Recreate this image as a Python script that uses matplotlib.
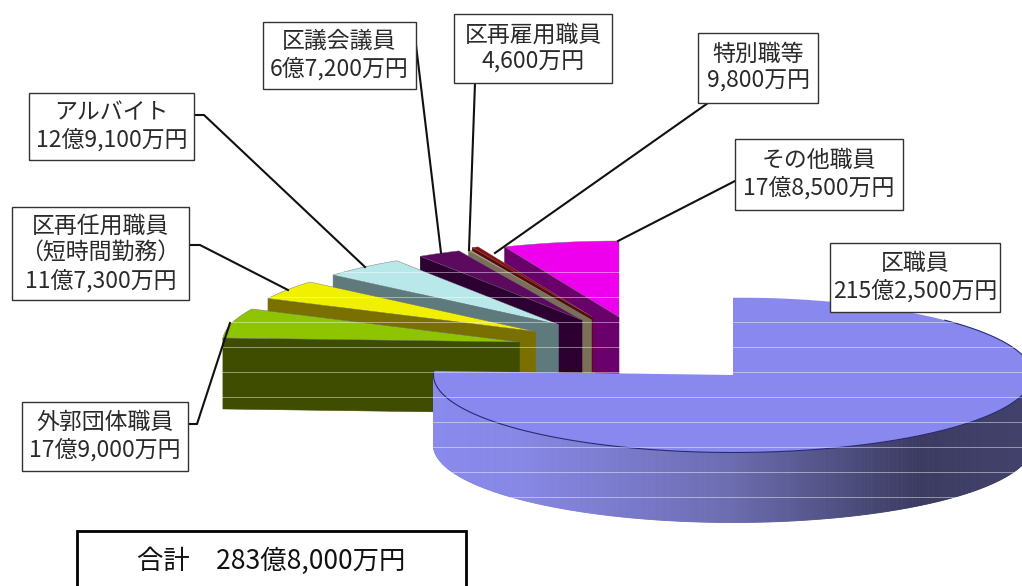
import numpy as np
import matplotlib
matplotlib.use('Agg')
import matplotlib.pyplot as plt
from matplotlib.patches import Polygon, Rectangle

plt.rcParams['font.family'] = ['Noto Sans CJK JP', 'DejaVu Sans']

# data (unit: 100 million yen), clockwise from 12 o'clock
categories = ['区職員', '外郭団体職員', '区再任用職員\n（短時間勤務）', 'アルバイト',
              '区議会議員', '区再雇用職員', '特別職等', 'その他職員']
values = [215.25, 17.90, 11.73, 12.91, 6.72, 0.46, 0.98, 17.85]
amounts = ['215億2,500万円', '17億9,000万円', '11億7,300万円', '12億9,100万円',
           '6億7,200万円', '4,600万円', '9,800万円', '17億8,500万円']
total_label = '合計　283億8,000万円'

# styling / layout (pixel space)
top_colors = ['#8888ee', '#8fc400', '#f0f000', '#b8e8ea', '#5c0a60', '#b3aa8e', '#8a1010', '#ee00ee']
wall_colors = [None, '#3f4d00', '#7a7000', '#5f7a7c', '#2c0030', '#7a7058', '#5a0808', '#6a006a']
apex = [(733, 375), (519.5, 342), (535.5, 331.5), (558.5, 324.5), (582, 320), (591.5, 320), (592.5, 317), (619, 317)]
radii = [(299.5, 77.5)] + [(297, 76)] * 7
depth = [70] + [71] * 7
boxes = [(830, 243, 1000, 312), (22, 402, 188, 471), (12, 207, 189, 300), (29, 93, 194, 160),
         (263, 22, 416, 89), (454, 14, 612, 83), (698, 33, 818, 103), (735, 139, 903, 210)]
leaders = [None,
           [(188, 424), (197, 424), (230, 323)],
           [(189, 245), (200, 245), (288, 290)],
           [(194, 115), (204, 115), (365, 267)],
           [(416, 45), (441, 253)],
           [(475, 83), (469, 250)],
           [(708, 103), (495, 253)],
           [(735, 181), (618, 241)]]

fig = plt.figure(figsize=(10.22, 5.86), dpi=100, facecolor='white')
ax = fig.add_axes([0, 0, 1, 1])
ax.set_xlim(0, 1022)
ax.set_ylim(586, 0)
ax.axis('off')

v = np.array(values)
deg = v / v.sum() * 360
# angles run counter-clockwise from 12 o'clock; main slice occupies the rest
ends = np.empty_like(deg)
starts = np.empty_like(deg)
ends[0] = 360
starts[0] = 360 - deg[0]
cur = starts[0]
for i in range(1, len(v)):
    ends[i] = cur
    starts[i] = cur - deg[i]
    cur = starts[i]


def arc(i, t):
    a = np.radians(t)
    return apex[i][0] - radii[i][0] * np.sin(a), apex[i][1] - radii[i][1] * np.cos(a)


# back slices first (その他 → 外郭団体)
for z, i in enumerate(range(len(v) - 1, 0, -1)):
    t = np.linspace(starts[i], ends[i], 40)
    xs, ys = arc(i, t)
    tipx, tipy = xs[-1], ys[-1]
    ax_, ay_ = apex[i]
    d = depth[i]
    ax.add_patch(Polygon([(tipx, tipy), (ax_, ay_), (ax_, ay_ + d), (tipx, tipy + d)],
                         closed=True, fc=wall_colors[i], ec=wall_colors[i], lw=0.4, zorder=2 + z * 0.1))
    ax.add_patch(Polygon(np.vstack([[ax_, ay_], np.column_stack([xs, ys])]),
                         closed=True, fc=top_colors[i], ec='#6e6e6e', lw=0.3, zorder=2.05 + z * 0.1))

# main slice: side wall with a horizontal gradient
t = np.linspace(starts[0], 272, 500)
xs, ys = arc(0, t)
grad_x = [434, 530, 730, 920, 1030]
grad_rgb = np.array([[0x8a, 0x8a, 0xee], [0x86, 0x86, 0xe4], [0x6c, 0x6c, 0xb0], [0x3a, 0x3a, 0x60], [0x42, 0x42, 0x6c]]) / 255
for k in range(len(t) - 1):
    xm = 0.5 * (xs[k] + xs[k + 1])
    col = [np.interp(xm, grad_x, grad_rgb[:, c]) for c in range(3)]
    ax.add_patch(Polygon([(xs[k], ys[k]), (xs[k + 1], ys[k + 1]),
                          (xs[k + 1], ys[k + 1] + depth[0]), (xs[k], ys[k] + depth[0])],
                         closed=True, fc=col, ec=col, lw=0.6, zorder=3))
t = np.linspace(starts[0], ends[0], 300)
xs, ys = arc(0, t)
ax.add_patch(Polygon(np.vstack([[apex[0][0], apex[0][1]], np.column_stack([xs, ys])]),
                     closed=True, fc=top_colors[0], ec='none', zorder=3.2))
front = np.linspace(starts[0], 315, 300)
fx, fy = arc(0, front)
ax.plot(fx, fy, color='#2a2a70', lw=0.8, zorder=3.3)

# faint horizontal scan lines
for y in np.arange(272, 498, 25):
    ax.plot([0, 1022], [y + 0.3, y + 0.3], color='white', alpha=0.45, lw=0.7, zorder=3.5)

# leader lines
for seg in leaders:
    if seg:
        p = np.array(seg)
        ax.plot(p[:, 0], p[:, 1], color='#111111', lw=1.5, zorder=4)

# label boxes
for i, b in enumerate(boxes):
    x0, y0, x1, y1 = b
    ax.add_patch(Rectangle((x0, y0), x1 - x0, y1 - y0, fc='white', ec='#333333', lw=1.0, zorder=5))
    txt = categories[i] + '\n' + amounts[i]
    ax.text((x0 + x1) / 2, (y0 + y1) / 2, txt, ha='center', va='center', ma='center',
            fontsize=16.5, color='#2a2a2a', linespacing=1.22, zorder=6)

# total box
ax.add_patch(Rectangle((77, 531), 389, 70, fc='white', ec='black', lw=2.0, zorder=5))
ax.text(271, 561, total_label, ha='center', va='center', fontsize=19, color='#111111', zorder=6)

fig.savefig('out.png', dpi=100)
